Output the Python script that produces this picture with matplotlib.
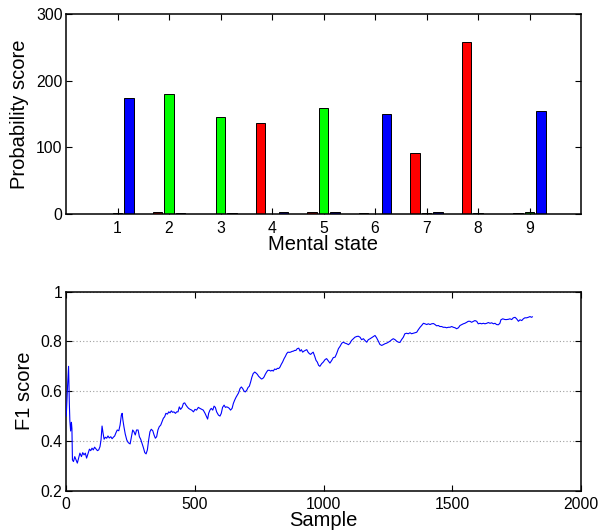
import numpy as np
import matplotlib
matplotlib.use("Agg")
import matplotlib.pyplot as plt

plt.rcParams['font.family'] = ['Liberation Sans', 'DejaVu Sans']

# --- Probability scores per mental state (three classes) ---
states = [1, 2, 3, 4, 5, 6, 7, 8, 9]
score_red = [0.0, 2.0, 0.0, 137.0, 2.0, 0.5, 91.0, 258.0, 0.5]
score_green = [0.5, 180.0, 146.0, 0.0, 159.0, 0.0, 0.5, 0.5, 2.0]
score_blue = [174.0, 0.5, 0.5, 3.0, 2.0, 150.0, 2.0, 0.0, 154.0]

# --- Running F1 score over samples ---
f1_sample = [
    1, 6, 10, 13, 15, 18, 21, 23, 25, 29, 34, 39, 44, 49, 54, 60, 65, 70, 75, 80,
    86, 91, 96, 101, 106, 111, 117, 122, 127, 132, 136, 140, 144, 148, 153, 158,
    163, 168, 174, 179, 184, 189, 194, 199, 205, 210, 215, 218, 221, 225, 230,
    236, 242, 249, 254, 259, 264, 269, 274, 280, 285, 290, 295, 300, 306, 311,
    316, 321, 326, 331, 337, 342, 347, 352, 357, 362, 368, 373, 378, 383, 388,
    394, 399, 404, 409, 414, 419, 425, 430, 435, 440, 445, 451, 456, 461, 466,
    471, 476, 482, 488, 495, 501, 507, 514, 520, 527, 533, 540, 546, 550, 554,
    559, 564, 570, 575, 580, 585, 592, 598, 603, 608, 614, 619, 624, 629, 634,
    639, 645, 650, 655, 660, 665, 670, 676, 681, 686, 691, 696, 702, 707, 712,
    717, 722, 727, 733, 738, 743, 748, 753, 759, 764, 769, 774, 779, 784, 790,
    795, 800, 805, 810, 816, 821, 826, 831, 836, 841, 847, 852, 857, 862, 867,
    872, 878, 883, 888, 893, 898, 904, 909, 914, 919, 924, 929, 935, 940, 945,
    950, 955, 960, 966, 971, 976, 981, 986, 993, 999, 1006, 1012, 1019, 1025,
    1032, 1038, 1045, 1051, 1058, 1064, 1071, 1077, 1084, 1090, 1097, 1103,
    1109, 1116, 1122, 1129, 1135, 1142, 1148, 1155, 1161, 1168, 1174, 1181,
    1187, 1194, 1200, 1206, 1213, 1219, 1226, 1232, 1239, 1245, 1252, 1258,
    1265, 1271, 1278, 1284, 1291, 1297, 1303, 1310, 1316, 1323, 1329, 1336,
    1342, 1349, 1355, 1362, 1368, 1375, 1381, 1388, 1394, 1401, 1407, 1414,
    1420, 1427, 1433, 1439, 1446, 1452, 1459, 1465, 1472, 1478, 1485, 1491,
    1498, 1504, 1511, 1517, 1524, 1530, 1537, 1543, 1549, 1556, 1562, 1569,
    1575, 1582, 1588, 1595, 1601, 1608, 1614, 1621, 1627, 1634, 1640, 1647,
    1653, 1660, 1666, 1672, 1679, 1685, 1689, 1696, 1705, 1711, 1718, 1724,
    1731, 1737, 1744, 1750, 1757, 1763, 1770, 1776, 1782, 1789, 1795, 1802,
    1808, 1811,
]
f1_value = [
    0.50, 0.62, 0.70, 0.55, 0.48, 0.44, 0.475, 0.45, 0.324, 0.317, 0.337, 0.324,
    0.311, 0.331, 0.351, 0.337, 0.353, 0.344, 0.351, 0.331, 0.351, 0.367, 0.361,
    0.371, 0.364, 0.375, 0.367, 0.361, 0.364, 0.377, 0.404, 0.460, 0.431, 0.407,
    0.415, 0.411, 0.420, 0.412, 0.417, 0.409, 0.415, 0.420, 0.433, 0.444, 0.441,
    0.464, 0.504, 0.511, 0.484, 0.457, 0.428, 0.404, 0.393, 0.388, 0.417, 0.444,
    0.437, 0.424, 0.444, 0.444, 0.417, 0.407, 0.391, 0.375, 0.353, 0.348, 0.364,
    0.404, 0.437, 0.447, 0.441, 0.424, 0.411, 0.417, 0.444, 0.457, 0.464, 0.477,
    0.491, 0.497, 0.511, 0.508, 0.517, 0.513, 0.521, 0.515, 0.517, 0.511, 0.517,
    0.517, 0.537, 0.527, 0.535, 0.551, 0.553, 0.544, 0.537, 0.531, 0.527, 0.524,
    0.517, 0.527, 0.524, 0.535, 0.531, 0.527, 0.524, 0.511, 0.497, 0.488, 0.511,
    0.524, 0.531, 0.524, 0.540, 0.535, 0.517, 0.504, 0.500, 0.511, 0.535, 0.544,
    0.535, 0.537, 0.535, 0.531, 0.524, 0.531, 0.551, 0.564, 0.575, 0.584, 0.593,
    0.611, 0.617, 0.611, 0.601, 0.597, 0.604, 0.615, 0.620, 0.637, 0.657, 0.671,
    0.677, 0.673, 0.668, 0.660, 0.655, 0.649, 0.651, 0.657, 0.668, 0.677, 0.684,
    0.684, 0.681, 0.684, 0.681, 0.689, 0.687, 0.692, 0.691, 0.697, 0.708, 0.717,
    0.731, 0.740, 0.751, 0.757, 0.756, 0.757, 0.760, 0.761, 0.764, 0.764, 0.771,
    0.773, 0.761, 0.767, 0.757, 0.761, 0.764, 0.767, 0.757, 0.751, 0.748, 0.753,
    0.757, 0.740, 0.724, 0.717, 0.704, 0.700, 0.711, 0.717, 0.727, 0.731, 0.721,
    0.713, 0.724, 0.735, 0.737, 0.751, 0.771, 0.780, 0.793, 0.797, 0.793, 0.791,
    0.787, 0.793, 0.804, 0.811, 0.817, 0.820, 0.821, 0.817, 0.807, 0.811, 0.804,
    0.797, 0.807, 0.811, 0.815, 0.820, 0.824, 0.815, 0.801, 0.788, 0.784, 0.787,
    0.791, 0.793, 0.797, 0.801, 0.807, 0.811, 0.807, 0.801, 0.797, 0.796, 0.807,
    0.817, 0.831, 0.833, 0.831, 0.835, 0.831, 0.833, 0.835, 0.837, 0.847, 0.857,
    0.864, 0.873, 0.871, 0.868, 0.871, 0.868, 0.871, 0.872, 0.868, 0.863, 0.864,
    0.860, 0.860, 0.857, 0.857, 0.855, 0.857, 0.857, 0.860, 0.857, 0.855, 0.851,
    0.855, 0.864, 0.868, 0.871, 0.873, 0.877, 0.881, 0.881, 0.877, 0.881, 0.884,
    0.881, 0.871, 0.873, 0.871, 0.873, 0.871, 0.873, 0.876, 0.873, 0.875, 0.871,
    0.873, 0.868, 0.867, 0.873, 0.887, 0.891, 0.888, 0.888, 0.889, 0.891, 0.888,
    0.895, 0.897, 0.891, 0.881, 0.887, 0.884, 0.891, 0.895, 0.895, 0.897, 0.900,
    0.897, 0.899,
]

bar_colors = ['#ff0000', '#00ff00', '#0000ff']
group_offsets = [-0.222, 0.0, 0.222]
bar_width = 0.178

W, H = 602, 531
fig = plt.figure(figsize=(W / 100, H / 100), dpi=100)

tick_fs = 11.3
label_fs = 14.5


def style_axes(ax):
    for sp in ax.spines.values():
        sp.set_linewidth(1.1)
        sp.set_color('black')
    ax.tick_params(direction='in', length=4.5, width=0.8, top=True, right=True,
                   labelsize=tick_fs, colors='black')


# Top panel: grouped bars
ax1 = fig.add_axes([66 / W, 1 - 213.7 / H, 515 / W, 199.4 / H])
x = np.array(states, dtype=float)
for vals, col, off in zip([score_red, score_green, score_blue], bar_colors, group_offsets):
    ax1.bar(x + off, vals, width=bar_width, color=col, edgecolor='black',
            linewidth=0.7, zorder=2)
ax1.set_xlim(0, 10)
ax1.set_ylim(0, 300)
ax1.set_xticks(states)
ax1.set_yticks([0, 100, 200, 300])
style_axes(ax1)
ax1.tick_params(axis='x', pad=5.5)
ax1.tick_params(axis='y', pad=2.5)
ax1.set_xlabel('Mental state', fontsize=label_fs)
ax1.set_ylabel('Probability score', fontsize=label_fs)
ax1.xaxis.set_label_coords(0.5, -0.108)
ax1.yaxis.set_label_coords(-0.071, 0.5)

# Bottom panel: F1 score curve
ax2 = fig.add_axes([66 / W, 1 - 490.7 / H, 515 / W, 199.0 / H])
ax2.plot(f1_sample, f1_value, color='#0000ff', linewidth=0.8, zorder=3)
ax2.set_xlim(0, 2000)
ax2.set_ylim(0.2, 1.0)
ax2.set_xticks([0, 500, 1000, 1500, 2000])
ax2.set_yticks([0.2, 0.4, 0.6, 0.8, 1.0])
ax2.set_yticklabels(['0.2', '0.4', '0.6', '0.8', '1'])
ax2.yaxis.grid(True, linestyle=(0, (1, 2)), color='#a0a0a0', linewidth=0.8)
style_axes(ax2)
ax2.tick_params(axis='x', pad=4.5)
ax2.tick_params(axis='y', pad=2.5)
ax2.set_xlabel('Sample', fontsize=label_fs)
ax2.set_ylabel('F1 score', fontsize=label_fs)
ax2.xaxis.set_label_coords(0.5, -0.103)
ax2.yaxis.set_label_coords(-0.062, 0.5)

fig.savefig('out.png', dpi=100)
